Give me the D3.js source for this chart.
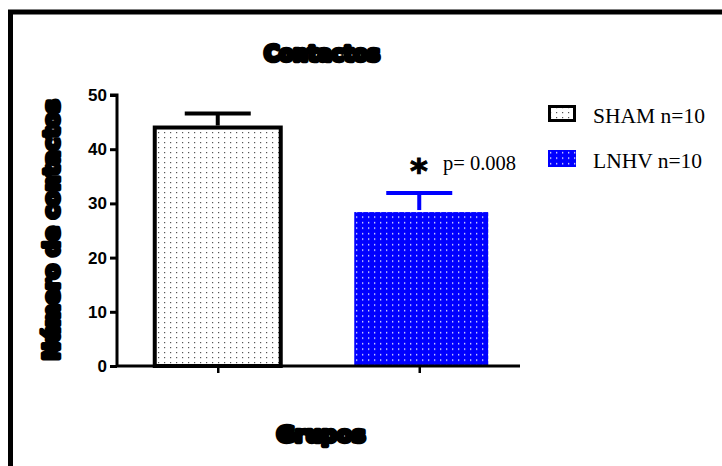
<!DOCTYPE html>
<html>
<head>
<meta charset="utf-8">
<script src="https://cdn.jsdelivr.net/npm/d3@7"></script>
<style>
  body { margin: 0; background: #fff; }
  svg { display: block; }
</style>
</head>
<body>
<div id="chart"></div>
<script>
// data
var groups = ["SHAM n=10", "LNHV n=10"];
var means = [44, 28.4];
var errors = [2.6, 3.5];
var yTicks = [0, 10, 20, 30, 40, 50];

var W = 722, H = 466;
var svg = d3.select("#chart").append("svg")
    .attr("width", W)
    .attr("height", H);

// patterns
var defs = svg.append("defs");
var p1 = defs.append("pattern").attr("id", "dotsWhite")
    .attr("patternUnits", "userSpaceOnUse").attr("width", 6).attr("height", 5);
p1.append("rect").attr("width", 6).attr("height", 5).attr("fill", "#fff");
p1.append("rect").attr("x", 2).attr("y", 2).attr("width", 1.2).attr("height", 1.2).attr("fill", "#555");

var p2 = defs.append("pattern").attr("id", "dotsBlue")
    .attr("patternUnits", "userSpaceOnUse").attr("width", 6).attr("height", 5.5);
p2.append("rect").attr("width", 6).attr("height", 5.5).attr("fill", "#0000ff");
p2.append("rect").attr("x", 2).attr("y", 2).attr("width", 1.3).attr("height", 1.3).attr("fill", "#fff");

var fills = ["url(#dotsWhite)", "url(#dotsBlue)"];
var strokes = ["#000", "none"];
var errColor = ["#000", "#0000ff"];

// frame
svg.append("rect")
    .attr("x", 10.5).attr("y", 12)
    .attr("width", W + 20).attr("height", H + 20)
    .attr("fill", "none").attr("stroke", "#000").attr("stroke-width", 5);

var x = d3.scalePoint().domain(groups).range([117, 520]).padding(0.5);
var y = d3.scaleLinear().domain([0, 50]).range([366, 95]);
var barW = 130, capW = 66;

// bars
svg.selectAll("rect.bar").data(groups).enter().append("rect")
    .attr("class", "bar")
    .attr("x", (d, i) => x(d) - barW / 2 + (i == 0 ? 2 : 0))
    .attr("y", (d, i) => y(means[i]))
    .attr("width", (d, i) => i == 0 ? barW - 4 : barW + 4)
    .attr("height", (d, i) => y(0) - y(means[i]))
    .attr("fill", (d, i) => fills[i])
    .attr("stroke", (d, i) => strokes[i])
    .attr("stroke-width", 4);

// error bars
groups.forEach(function(g, i) {
    var e = svg.append("g").attr("stroke", errColor[i]).attr("stroke-width", 4);
    e.append("line")
        .attr("x1", x(g)).attr("x2", x(g))
        .attr("y1", y(means[i]) - 2).attr("y2", y(means[i] + errors[i]));
    e.append("line")
        .attr("x1", x(g) - capW / 2).attr("x2", x(g) + capW / 2)
        .attr("y1", y(means[i] + errors[i])).attr("y2", y(means[i] + errors[i]));
});

// axes
var yAxis = d3.axisLeft(y).tickValues(yTicks).tickSize(7).tickPadding(3);
var gy = svg.append("g").attr("transform", "translate(117,0)").call(yAxis);
gy.select(".domain").attr("stroke-width", 3).attr("d", "M0,366V95h-7");
gy.selectAll(".tick line").attr("stroke-width", 3);
gy.selectAll(".tick text")
    .attr("font-family", "Liberation Sans, Arial, sans-serif")
    .attr("font-weight", "bold").attr("font-size", 17).attr("fill", "#000");

var xAxis = d3.axisBottom(x).tickSize(7).tickFormat("");
var gx = svg.append("g").attr("transform", "translate(0,366)").call(xAxis);
gx.select(".domain").attr("stroke-width", 3).attr("d", "M117,0H520");
gx.selectAll(".tick line").attr("stroke-width", 2.5);

// titles
function heavy(sel) {
    sel.attr("font-family", "DejaVu Sans, sans-serif")
        .attr("font-weight", "bold")
        .attr("fill", "#000").attr("stroke", "#000")
        .attr("stroke-width", 4.5).attr("stroke-linejoin", "round")
        .attr("text-anchor", "middle");
}
svg.append("text").attr("x", 322).attr("y", 61).attr("font-size", 20.5)
    .text("Contactos").call(heavy);
svg.append("text").attr("x", 321).attr("y", 442).attr("font-size", 22)
    .text("Grupos").call(heavy);
svg.append("text")
    .attr("transform", "translate(59,230) rotate(-90)")
    .attr("font-size", 21.5)
    .attr("letter-spacing", 0.1)
    .text("Número de contactos").call(heavy);

// significance
svg.append("text").attr("x", 410).attr("y", 183)
    .attr("font-family", "DejaVu Sans, sans-serif").attr("font-weight", "bold")
    .attr("stroke", "#000").attr("stroke-width", 1)
    .attr("font-size", 34).text("*");
svg.append("text").attr("x", 443).attr("y", 170)
    .attr("font-family", "Liberation Serif, Times New Roman, serif")
    .attr("font-size", 20.5).text("p= 0.008");

// legend
var leg = svg.selectAll("g.leg").data(groups).enter().append("g")
    .attr("class", "leg")
    .attr("transform", (d, i) => "translate(548," + (105 + i * 45) + ")");
leg.append("rect")
    .attr("x", (d, i) => i == 0 ? 1.5 : 0).attr("y", (d, i) => i == 0 ? 1.5 : 0)
    .attr("width", (d, i) => i == 0 ? 25 : 28).attr("height", (d, i) => i == 0 ? 14 : 17)
    .attr("fill", (d, i) => fills[i])
    .attr("stroke", (d, i) => strokes[i]).attr("stroke-width", 3);
leg.append("text").attr("x", 45).attr("y", 18)
    .attr("font-family", "Liberation Serif, Times New Roman, serif")
    .attr("font-size", 21.5).text(d => d);
</script>
</body>
</html>
